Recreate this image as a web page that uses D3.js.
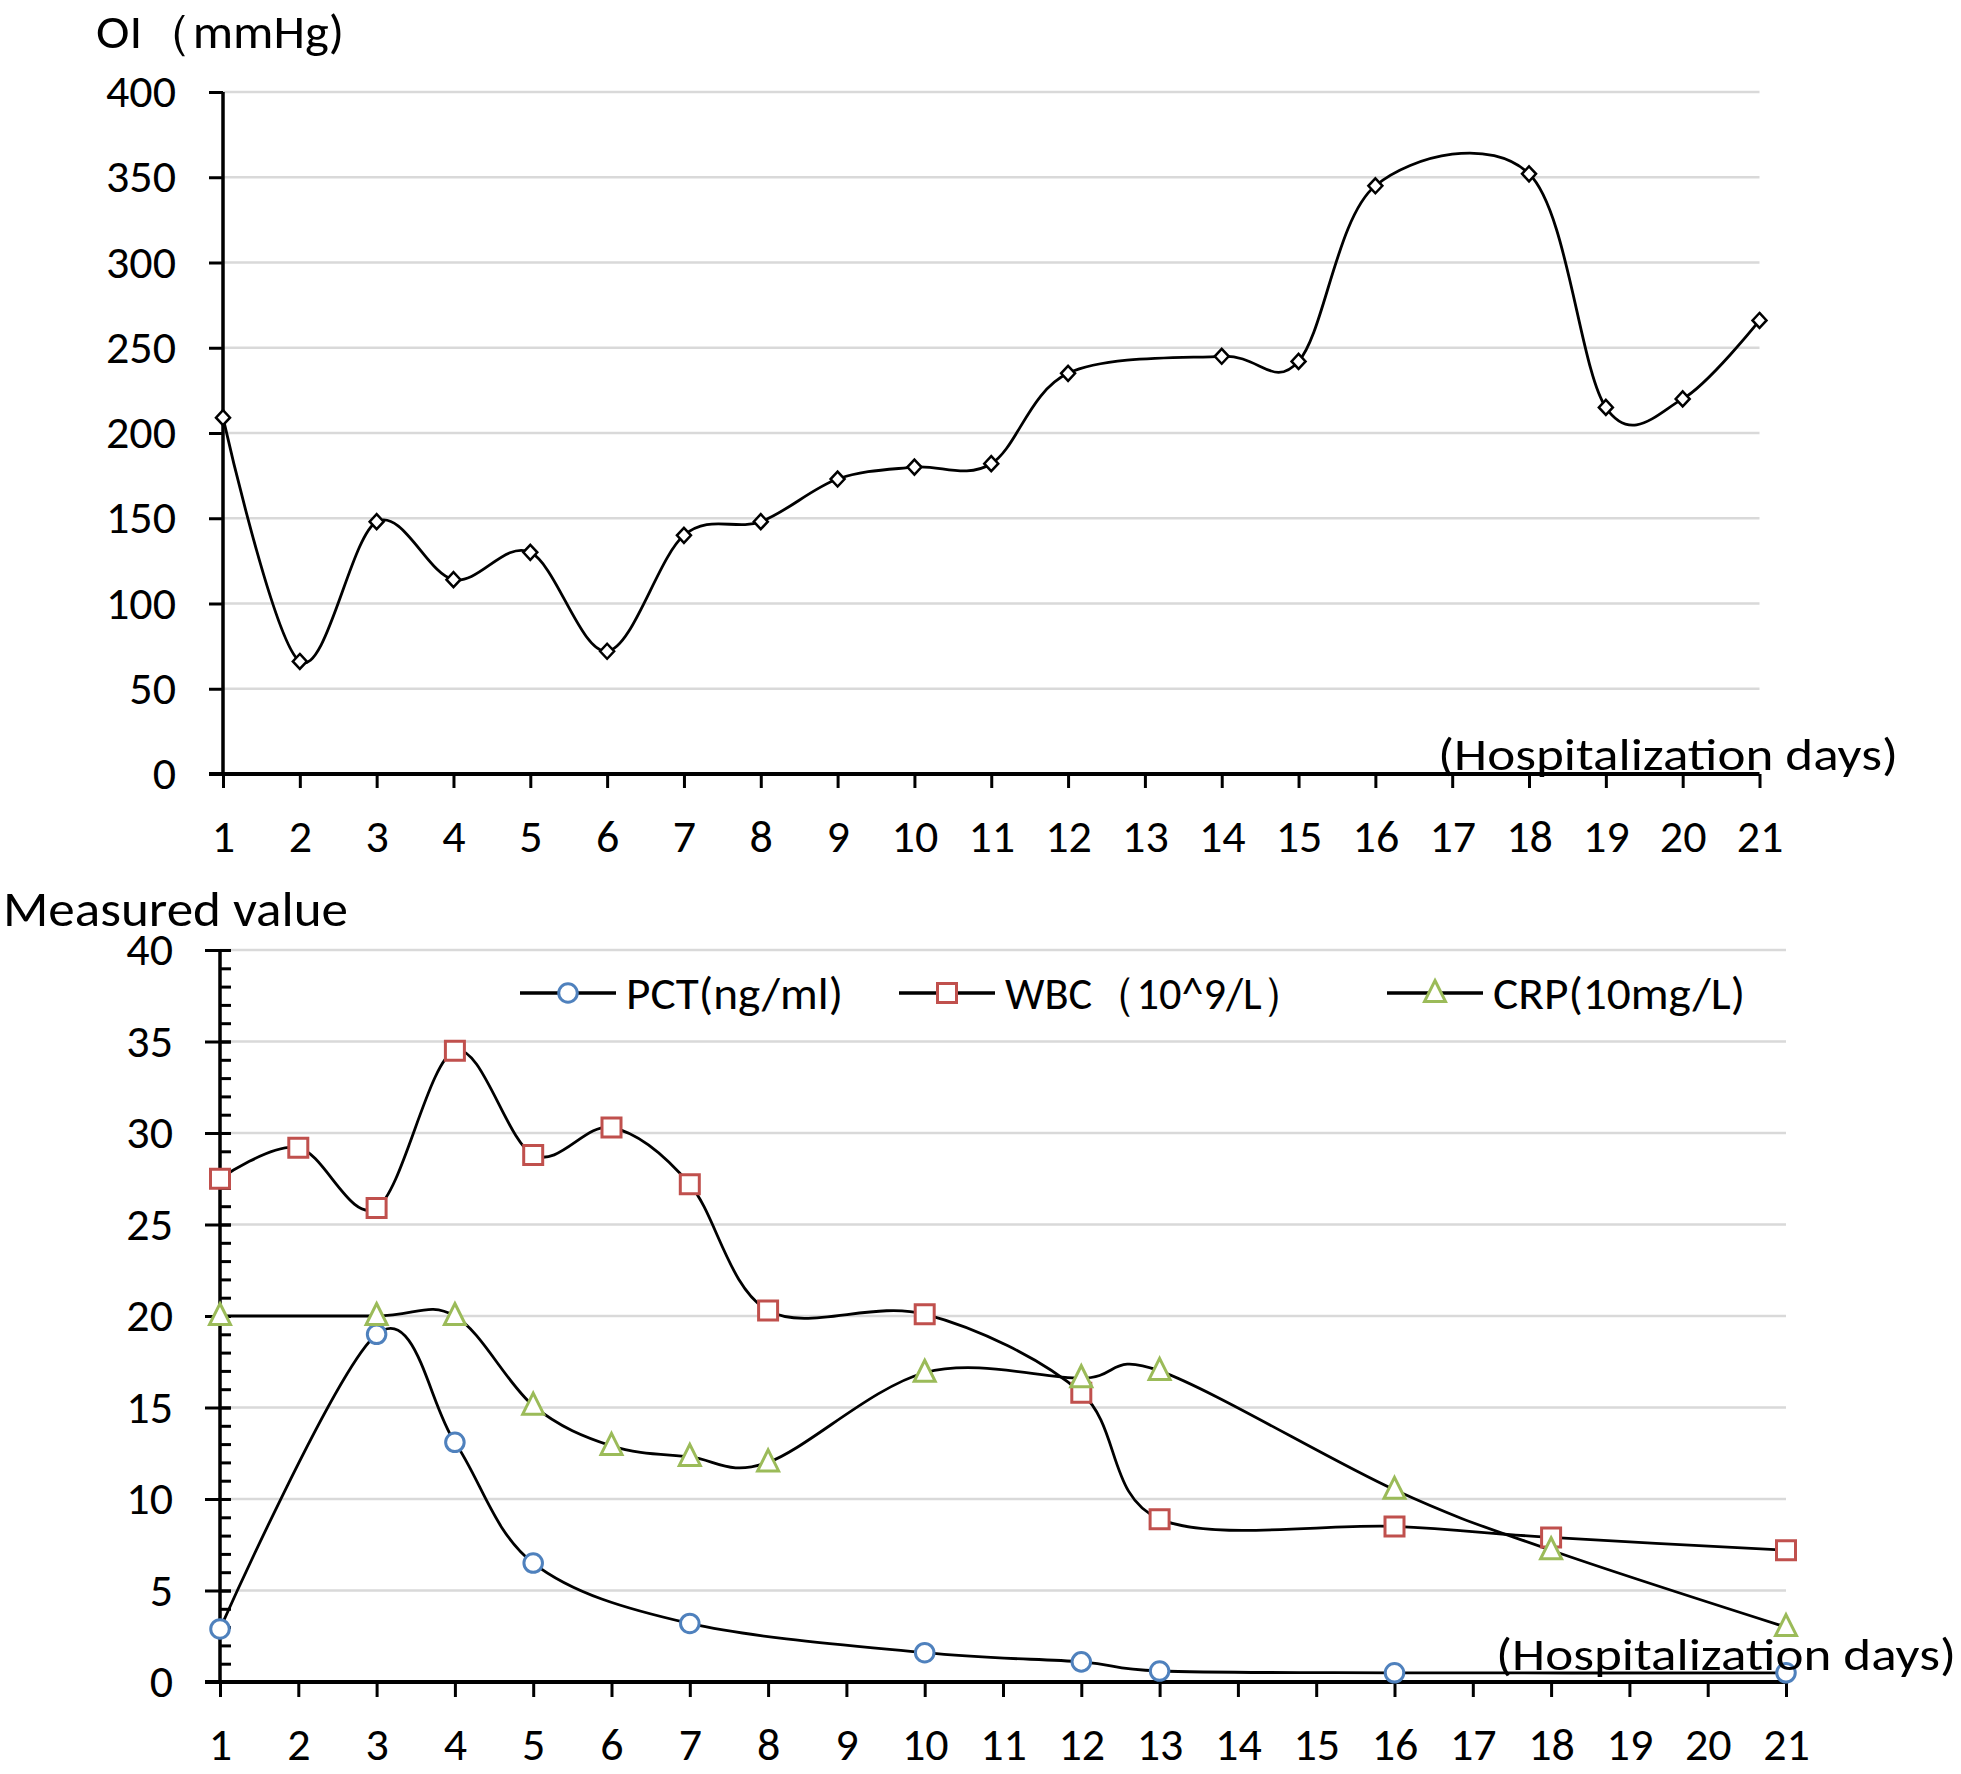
<!DOCTYPE html>
<html>
<head>
<meta charset="utf-8">
<script src="https://cdn.jsdelivr.net/npm/d3@7"></script>
<style>
  html, body { margin: 0; padding: 0; background: #fff; }
  svg text { font-family: "Carlito", "Liberation Sans Narrow", "Open Sans", sans-serif; fill: #000; }
</style>
</head>
<body>
<svg id="chart" width="1961" height="1774"></svg>
<script>
// ---------- DATA ----------
const dayTicks = [1,2,3,4,5,6,7,8,9,10,11,12,13,14,15,16,17,18,19,20,21];

const oiTicks = [0,50,100,150,200,250,300,350,400];
const oiDays   = [1,2,3,4,5,6,7,8,9,10,11,12,14,15,16,18,19,20,21];
const oiValues = [209,66,148,114,130,72,140,148,173,180,182,235,245,242,345,352,215,220,266];

const measTicks = [0,5,10,15,20,25,30,35,40];
const pctDays   = [1,3,4,5,7,10,12,13,16,21];
const pctValues = [2.9,19.0,13.1,6.5,3.2,1.6,1.1,0.6,0.5,0.5];
const wbcDays   = [1,2,3,4,5,6,7,8,10,12,13,16,18,21];
const wbcValues = [27.5,29.2,25.9,34.5,28.8,30.3,27.2,20.3,20.1,15.8,8.9,8.5,7.9,7.2];
const crpDays   = [1,3,4,5,6,7,8,10,12,13,16,18,21];
const crpValues = [20,20,20,15.1,12.9,12.3,12.0,16.9,16.6,17.0,10.5,7.2,3.0];

const seriesNames = ["PCT(ng/ml)", "WBC（10^9/L）", "CRP(10mg/L)"];
const seriesColors = ["#4F81BD", "#C0504D", "#9BBB59"];
const seriesShapes = ["circle", "square", "triangle"];

// ---------- SETUP ----------
const svg = d3.select("#chart");
const FS = 46;
const FONT = '"Carlito", "Liberation Sans Narrow", "Open Sans", sans-serif';
const gridColor = "#D9D9D9";
const curve = d3.curveCardinal.tension(0);

function markerPath(shape) {
  if (shape === "circle") return d3.symbol(d3.symbolCircle, 270)();
  if (shape === "square") return "M-9.5,-9.5L9.5,-9.5L9.5,9.5L-9.5,9.5Z";
  if (shape === "triangle") return "M0,-12.5L10.5,8.5L-10.5,8.5Z";
  if (shape === "diamond") return "M0,-7.5L7,0L0,7.5L-7,0Z";
}

// ---------- TOP CHART ----------
const xT = d3.scaleLinear().domain([1,21]).range([223, 1759.5]);
const yT = d3.scaleLinear().domain([0,400]).range([774, 92]);
const gTop = svg.append("g");

gTop.selectAll(".grid").data(oiTicks.filter(d => d > 0)).join("line")
  .attr("x1", xT(1)).attr("x2", xT(21))
  .attr("y1", d => yT(d)).attr("y2", d => yT(d))
  .attr("stroke", gridColor).attr("stroke-width", 2.5);

const yAxT = gTop.append("g").attr("transform", `translate(${xT(1)},0)`)
  .call(d3.axisLeft(yT).tickValues(oiTicks).tickSize(14).tickPadding(33).tickFormat(d3.format("d")));
const xAxT = gTop.append("g").attr("transform", `translate(0,${yT(0)})`)
  .call(d3.axisBottom(xT).tickValues(dayTicks).tickSize(14).tickPadding(31).tickFormat(d3.format("d")));

[yAxT, xAxT].forEach(ax => {
  ax.select(".domain").remove();
  ax.selectAll(".tick line").attr("stroke", "#000").attr("stroke-width", 3);
  ax.selectAll("text").attr("font-size", FS).attr("fill", "#000").style("font-family", FONT);
});
gTop.append("line").attr("x1", xT(1)).attr("x2", xT(1)).attr("y1", yT(400)).attr("y2", yT(0))
  .attr("stroke", "#000").attr("stroke-width", 3.5);
gTop.append("line").attr("x1", xT(1) - 14).attr("x2", xT(21)).attr("y1", yT(0)).attr("y2", yT(0))
  .attr("stroke", "#000").attr("stroke-width", 4);

const oiData = oiDays.map((d, i) => [d, oiValues[i]]);
gTop.append("path").datum(oiData)
  .attr("d", d3.line().x(d => xT(d[0])).y(d => yT(d[1])).curve(curve))
  .attr("fill", "none").attr("stroke", "#000").attr("stroke-width", 2.8);
gTop.selectAll(".oi").data(oiData).join("path")
  .attr("transform", d => `translate(${xT(d[0])},${yT(d[1])})`)
  .attr("d", markerPath("diamond"))
  .attr("fill", "#fff").attr("stroke", "#000").attr("stroke-width", 2.5);

gTop.append("text").attr("x", 96).attr("y", 48).attr("font-size", FS + 2)
  .attr("textLength", 248).attr("lengthAdjust", "spacingAndGlyphs").text("OI（mmHg)");
gTop.append("text").attr("x", 1438).attr("y", 770)
  .attr("font-size", FS).attr("textLength", 460).attr("lengthAdjust", "spacingAndGlyphs")
  .text("(Hospitalization days)");

// ---------- BOTTOM CHART ----------
const xB = d3.scaleLinear().domain([1,21]).range([220, 1786]);
const yB = d3.scaleLinear().domain([0,40]).range([1682, 950]);
const gBot = svg.append("g");

gBot.selectAll(".grid").data(measTicks.filter(d => d > 0)).join("line")
  .attr("x1", xB(1)).attr("x2", xB(21))
  .attr("y1", d => yB(d)).attr("y2", d => yB(d))
  .attr("stroke", gridColor).attr("stroke-width", 2.5);

const minorAx = gBot.append("g").attr("transform", `translate(${xB(1)},0)`)
  .call(d3.axisRight(yB).ticks(40).tickSize(11).tickFormat(""));
minorAx.select(".domain").remove();
minorAx.selectAll(".tick line").attr("stroke", "#000").attr("stroke-width", 3);

const yAxB = gBot.append("g").attr("transform", `translate(${xB(1)},0)`)
  .call(d3.axisLeft(yB).tickValues(measTicks).tickSizeInner(15).tickSizeOuter(0).tickPadding(32).tickFormat(d3.format("d")));
const xAxB = gBot.append("g").attr("transform", `translate(0,${yB(0)})`)
  .call(d3.axisBottom(xB).tickValues(dayTicks).tickSize(15).tickPadding(30).tickFormat(d3.format("d")));
[yAxB, xAxB].forEach(ax => {
  ax.select(".domain").remove();
  ax.selectAll(".tick line").attr("stroke", "#000").attr("stroke-width", 3);
  ax.selectAll("text").attr("font-size", FS).attr("fill", "#000").style("font-family", FONT);
});
yAxB.selectAll(".tick line").attr("x2", -15).attr("x1", 11);
gBot.append("line").attr("x1", xB(1)).attr("x2", xB(1)).attr("y1", yB(40)).attr("y2", yB(0))
  .attr("stroke", "#000").attr("stroke-width", 3.5);
gBot.append("line").attr("x1", xB(1) - 15).attr("x2", xB(21)).attr("y1", yB(0)).attr("y2", yB(0))
  .attr("stroke", "#000").attr("stroke-width", 4);

const series = [
  pctDays.map((d, i) => [d, pctValues[i]]),
  wbcDays.map((d, i) => [d, wbcValues[i]]),
  crpDays.map((d, i) => [d, crpValues[i]])
];
const lineB = d3.line().x(d => xB(d[0])).y(d => yB(d[1])).curve(curve);
series.forEach(s => {
  gBot.append("path").datum(s).attr("d", lineB)
    .attr("fill", "none").attr("stroke", "#000").attr("stroke-width", 2.8);
});
series.forEach((s, k) => {
  gBot.selectAll(".m" + k).data(s).join("path")
    .attr("transform", d => `translate(${xB(d[0])},${yB(d[1])})`)
    .attr("d", markerPath(seriesShapes[k]))
    .attr("fill", "#fff").attr("stroke", seriesColors[k]).attr("stroke-width", 3);
});

const legX = [520, 899, 1387];
const legW = [217, 301, 252];
const legY = 993;
const leg = gBot.append("g");
seriesNames.forEach((name, k) => {
  const g = leg.append("g").attr("transform", `translate(${legX[k]},${legY})`);
  g.append("line").attr("x1", 0).attr("x2", 96).attr("y1", 0).attr("y2", 0)
    .attr("stroke", "#000").attr("stroke-width", 3.5);
  g.append("path").attr("transform", "translate(48,0)").attr("d", markerPath(seriesShapes[k]))
    .attr("fill", "#fff").attr("stroke", seriesColors[k]).attr("stroke-width", 3);
  g.append("text").attr("x", 106).attr("y", 16).attr("font-size", FS)
    .attr("textLength", legW[k]).attr("lengthAdjust", "spacingAndGlyphs").text(name);
});

gBot.append("text").attr("x", 3).attr("y", 926).attr("font-size", 50)
  .attr("textLength", 345).attr("lengthAdjust", "spacingAndGlyphs").text("Measured value");
gBot.append("text").attr("x", 1496).attr("y", 1670)
  .attr("font-size", FS).attr("textLength", 460).attr("lengthAdjust", "spacingAndGlyphs")
  .text("(Hospitalization days)");
</script>
</body>
</html>
